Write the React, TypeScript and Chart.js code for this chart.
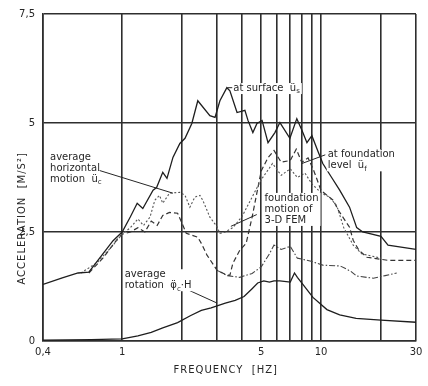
import React, { useEffect, useRef } from "react";
import { Chart, registerables } from "chart.js";

Chart.register(...registerables);

// ---- data (frequency in Hz, acceleration in m/s²) ----
const fSurface = [0.4, 0.5, 0.6, 0.68, 0.8, 0.9, 1.0, 1.1, 1.19, 1.27, 1.43, 1.49, 1.6, 1.68, 1.8, 1.95, 2.07, 2.24, 2.4, 2.76, 2.93, 3.1, 3.36, 3.48, 3.78, 4.14, 4.29, 4.54, 4.76, 5.05, 5.41, 5.86, 6.21, 6.97, 7.55, 8.02, 8.49, 8.99, 9.64, 10.2, 11.3, 12.4, 13.9, 15.1, 16.2, 20, 21.7, 30];
const aSurface = [1.3, 1.45, 1.56, 1.58, 2.0, 2.3, 2.5, 2.85, 3.16, 3.04, 3.46, 3.52, 3.87, 3.73, 4.21, 4.53, 4.65, 4.99, 5.51, 5.17, 5.13, 5.51, 5.81, 5.74, 5.24, 5.29, 5.06, 4.78, 4.99, 5.06, 4.55, 4.78, 5.01, 4.65, 5.10, 4.83, 4.55, 4.71, 4.35, 4.07, 3.75, 3.46, 3.07, 2.6, 2.5, 2.4, 2.2, 2.1];

const fHoriz = [0.62, 0.75, 0.9, 1.0, 1.1, 1.2, 1.28, 1.38, 1.46, 1.54, 1.6, 1.73, 1.95, 2.07, 2.19, 2.32, 2.46, 2.54, 2.67, 2.76, 2.99, 3.1, 3.3, 3.6, 4.0, 4.5, 5.0, 5.7, 6.3, 7.0, 7.6, 8.3, 9.0, 10.0, 11.0, 12.0, 13.0, 14.5, 16, 20];
const aHoriz = [1.56, 1.8, 2.2, 2.45, 2.6, 2.8, 2.65, 2.84, 3.23, 3.34, 3.16, 3.39, 3.41, 3.34, 3.07, 3.3, 3.34, 3.23, 3.0, 2.84, 2.63, 2.47, 2.5, 2.6, 2.85, 3.3, 3.7, 4.07, 3.8, 3.95, 3.75, 3.85, 3.6, 3.4, 3.3, 3.1, 2.6, 2.2, 2.0, 1.9];

const fFound = [0.68, 0.8, 0.95, 1.0, 1.1, 1.2, 1.3, 1.4, 1.5, 1.6, 1.73, 1.9, 2.0, 2.1, 2.4, 2.5, 2.67, 3.0, 3.36, 3.48, 3.6, 3.9, 4.2, 4.5, 5.0, 5.4, 5.8, 6.3, 7.0, 7.5, 8.0, 8.6, 9.2, 10.0, 11.5, 12.2, 13.9, 14.5, 15.5, 17, 21.7, 30];
const aFound = [1.56, 1.9, 2.35, 2.45, 2.5, 2.6, 2.5, 2.75, 2.65, 2.88, 2.95, 2.93, 2.7, 2.47, 2.38, 2.24, 1.97, 1.62, 1.51, 1.51, 1.78, 2.08, 2.24, 2.84, 3.9, 4.2, 4.37, 4.1, 4.14, 4.4, 4.1, 4.2, 3.9, 3.45, 3.23, 3.0, 2.61, 2.31, 2.08, 1.92, 1.85, 1.85];

const fFem = [3.0, 3.38, 3.9, 4.5, 5.0, 5.5, 5.8, 6.3, 7.0, 7.6, 8.9, 10.2, 12.5, 14.1, 15.1, 18.3, 21, 24];
const aFem = [1.62, 1.5, 1.46, 1.55, 1.7, 2.0, 2.2, 2.1, 2.17, 1.9, 1.83, 1.74, 1.72, 1.6, 1.49, 1.44, 1.5, 1.56];

const fRot = [0.4, 0.7, 1.0, 1.2, 1.4, 1.6, 1.9, 2.2, 2.5, 2.8, 3.3, 3.7, 4.1, 4.5, 4.8, 5.15, 5.5, 5.8, 6.2, 7.0, 7.35, 7.6, 8.1, 9.1, 10.7, 12.4, 15, 20, 30];
const aRot = [0.02, 0.03, 0.05, 0.12, 0.2, 0.3, 0.42, 0.58, 0.7, 0.76, 0.87, 0.93, 1.02, 1.2, 1.33, 1.38, 1.35, 1.38, 1.38, 1.35, 1.56, 1.46, 1.3, 1.0, 0.72, 0.6, 0.52, 0.48, 0.43];

const xGridValues = [0.4, 1, 2, 3, 4, 5, 6, 7, 8, 9, 10, 20, 30];
const xLabelValues = [0.4, 1, 5, 10, 30];
const yMin = 0;
const yMax = 7.5;
const yStep = 2.5;

const FONT = "'DejaVu Sans', sans-serif";
const INK = "#262626";

const pts = (fs: number[], as: number[]) => fs.map((f, i) => ({ x: f, y: as[i] }));

type Part = { t: string; sub?: boolean };
type Label = { f: number; a: number; lines: Part[][]; bg?: boolean };
type Leader = { f1: number; a1: number; f2: number; a2: number };

const labels: Label[] = [
  { f: 0.434, a: 4.21, lines: [[{ t: "average" }], [{ t: "horizontal" }], [{ t: "motion  ü" }, { t: "c", sub: true }]] },
  { f: 3.62, a: 5.79, lines: [[{ t: "at surface  ü" }, { t: "s", sub: true }]], bg: true },
  { f: 10.8, a: 4.27, lines: [[{ t: "at foundation" }], [{ t: "level  ü" }, { t: "f", sub: true }]], bg: true },
  { f: 5.2, a: 3.27, lines: [[{ t: "foundation" }], [{ t: "motion of" }], [{ t: "3-D FEM" }]], bg: true },
  { f: 1.03, a: 1.52, lines: [[{ t: "average" }], [{ t: "rotation  φ̈" }, { t: "c", sub: true }, { t: "·H" }]], bg: true },
];

const leaders: Leader[] = [
  { f1: 0.77, a1: 3.91, f2: 1.8, a2: 3.39 },
  { f1: 3.38, a1: 5.81, f2: 3.6, a2: 5.81 },
  { f1: 8.0, a1: 4.07, f2: 10.5, a2: 4.27 },
  { f1: 4.75, a1: 2.9, f2: 3.52, a2: 2.63 },
  { f1: 2.15, a1: 1.17, f2: 3.0, a2: 0.87 },
];

const annotatePlugin = {
  id: "annotate",
  afterDatasetsDraw(chart: any) {
    const { ctx, chartArea, scales } = chart;
    const xs = scales.x;
    const ys = scales.y;
    const size = 10;
    const lineH = 11;
    ctx.save();
    ctx.textBaseline = "middle";
    ctx.textAlign = "left";
    // leaders
    ctx.strokeStyle = INK;
    ctx.lineWidth = 1;
    for (const l of leaders) {
      ctx.beginPath();
      ctx.moveTo(xs.getPixelForValue(l.f1), ys.getPixelForValue(l.a1));
      ctx.lineTo(xs.getPixelForValue(l.f2), ys.getPixelForValue(l.a2));
      ctx.stroke();
    }
    const widthOf = (parts: Part[]) => {
      let w = 0;
      for (const p of parts) {
        ctx.font = `${p.sub ? size * 0.7 : size}px ${FONT}`;
        w += ctx.measureText(p.t).width;
      }
      return w;
    };
    for (const lab of labels) {
      const x0 = xs.getPixelForValue(lab.f);
      const y0 = ys.getPixelForValue(lab.a);
      if (lab.bg) {
        const w = Math.max(...lab.lines.map(widthOf));
        ctx.fillStyle = "#ffffff";
        ctx.fillRect(x0 - 1, y0 - lineH / 2, w + 3, lineH * lab.lines.length);
      }
      ctx.fillStyle = INK;
      lab.lines.forEach((parts, i) => {
        let cx = x0;
        const y = y0 + i * lineH;
        for (const p of parts) {
          ctx.font = `${p.sub ? size * 0.7 : size}px ${FONT}`;
          ctx.fillText(p.t, cx, p.sub ? y + 3 : y);
          cx += ctx.measureText(p.t).width;
        }
      });
    }
    // axis titles
    ctx.fillStyle = INK;
    ctx.font = `10px ${FONT}`;
    (ctx as any).letterSpacing = "1px";
    ctx.textAlign = "center";
    ctx.fillText("FREQUENCY  [HZ]", chartArea.left + 0.49 * (chartArea.right - chartArea.left), chartArea.bottom + 29);
    ctx.translate(chartArea.left - 21, chartArea.top + 0.625 * (chartArea.bottom - chartArea.top));
    ctx.rotate(-Math.PI / 2);
    ctx.fillText("ACCELERATION  [M/S²]", 0, 0);
    ctx.restore();
  },
};

export default function App() {
  const ref = useRef<HTMLCanvasElement | null>(null);
  useEffect(() => {
    document.body.style.margin = "0";
    const canvas = ref.current;
    if (!canvas) return;
    const gridColor = "#2e2e2e";
    const chart = new Chart(canvas, {
      type: "line",
      data: {
        datasets: [
          { label: "at surface", data: pts(fSurface, aSurface), borderColor: "#1e1e1e", borderWidth: 1.3 },
          { label: "average horizontal motion", data: pts(fHoriz, aHoriz), borderColor: "#555", borderWidth: 1.1, borderDash: [2, 2] },
          { label: "at foundation level", data: pts(fFound, aFound), borderColor: "#333", borderWidth: 1.2, borderDash: [5, 3] },
          { label: "foundation motion of 3-D FEM", data: pts(fFem, aFem), borderColor: "#444", borderWidth: 1.1, borderDash: [6, 2, 1.5, 2] },
          { label: "average rotation", data: pts(fRot, aRot), borderColor: "#1e1e1e", borderWidth: 1.3 },
        ] as any,
      },
      options: {
        responsive: false,
        animation: false,
        events: [],
        parsing: false as any,
        elements: { point: { radius: 0 }, line: { tension: 0, fill: false } },
        layout: { padding: { left: 0, right: 12, top: 13, bottom: 0 } },
        plugins: { legend: { display: false }, tooltip: { enabled: false } },
        scales: {
          x: {
            type: "logarithmic",
            min: 0.4,
            max: 30,
            afterBuildTicks: (axis: any) => {
              axis.ticks = xGridValues.map((v) => ({ value: v }));
            },
            afterFit: (s: any) => {
              s.height = 45;
            },
            ticks: {
              autoSkip: false,
              maxRotation: 0,
              padding: 5,
              color: INK,
              font: { family: FONT, size: 10 },
              callback: (v: any) => (xLabelValues.includes(Number(v)) ? String(v).replace(".", ",") : ""),
            },
            grid: { color: gridColor, lineWidth: 1.6, drawTicks: false },
            border: { display: true, color: gridColor, width: 1.6 },
          },
          y: {
            type: "linear",
            min: yMin,
            max: yMax,
            afterFit: (s: any) => {
              s.width = 43;
            },
            ticks: {
              stepSize: yStep,
              padding: 8,
              color: INK,
              font: { family: FONT, size: 10 },
              callback: (v: any) => String(v).replace(".", ","),
            },
            grid: { color: gridColor, lineWidth: 1.4, drawTicks: false },
            border: { display: true, color: gridColor, width: 1.6 },
          },
        },
      } as any,
      plugins: [annotatePlugin],
    });
    return () => chart.destroy();
  }, []);
  return (
    <div style={{ width: 428, height: 386, background: "#fff" }}>
      <canvas ref={ref} width={428} height={386} style={{ width: 428, height: 386, display: "block" }} />
    </div>
  );
}
